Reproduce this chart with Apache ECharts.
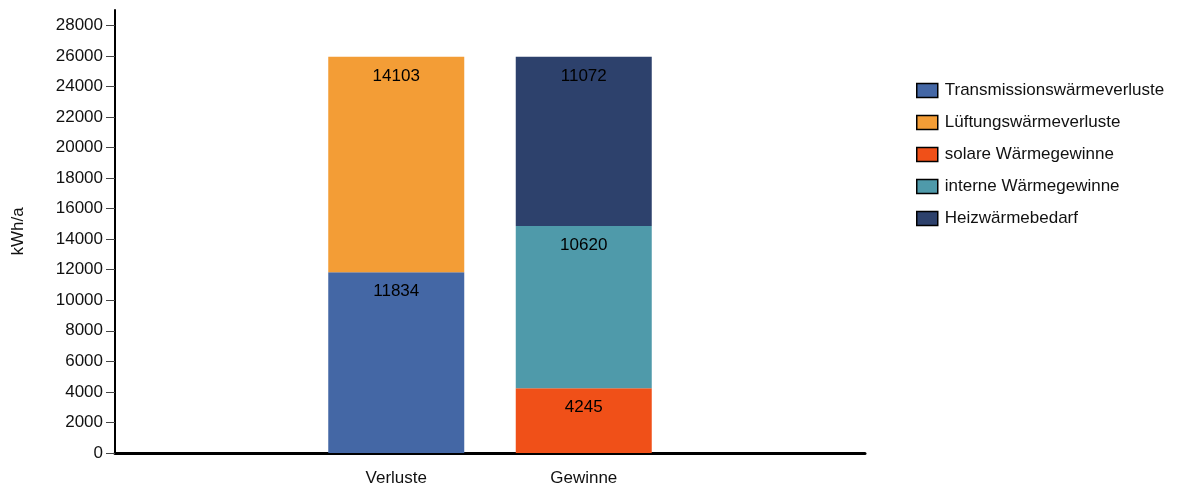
<!DOCTYPE html>
<html>
<head>
<meta charset="utf-8">
<script src="https://cdn.jsdelivr.net/npm/echarts@6/dist/echarts.min.js"></script>
<style>
  html, body { margin: 0; padding: 0; background: #fff; }
  #chart { width: 1200px; height: 488px; }
</style>
</head>
<body>
<div id="chart"></div>
<script>
// Energy balance: losses vs. gains (kWh/a)
const categories = ['', 'Verluste', 'Gewinne', ''];
const seriesNames = [
  'Transmissionswärmeverluste',
  'Lüftungswärmeverluste',
  'solare Wärmegewinne',
  'interne Wärmegewinne',
  'Heizwärmebedarf'
];
const transmission = [null, 11834, null, null];
const lueftung     = [null, 14103, null, null];
const solar        = [null, null, 4245, null];
const intern       = [null, null, 10620, null];
const heizbedarf   = [null, null, 11072, null];
const colors = ['#4467a5', '#f39d36', '#f05018', '#4f9aaa', '#2d416c'];
const yTicks = [0, 2000, 4000, 6000, 8000, 10000, 12000, 14000, 16000, 18000, 20000, 22000, 24000, 26000, 28000];

const FONT = 'Liberation Sans, Arial, sans-serif';
const valueSets = [transmission, lueftung, solar, intern, heizbedarf];

const chart = echarts.init(document.getElementById('chart'));
chart.setOption({
  animation: false,
  textStyle: { fontFamily: FONT },
  grid: { left: 115, right: 335, top: 10, bottom: 35, containLabel: false },
  legend: {
    orient: 'vertical',
    left: 911,
    top: 77,
    itemWidth: 21,
    itemHeight: 14,
    itemGap: 15,
    icon: 'rect',
    itemStyle: { borderColor: '#000', borderWidth: 1.5 },
    textStyle: { fontFamily: FONT, fontSize: 17, color: '#111', padding: [0, 0, 0, 2] },
    data: seriesNames
  },
  xAxis: {
    type: 'category',
    data: categories,
    axisLine: { lineStyle: { color: '#000', width: 3 } },
    axisTick: { show: false },
    axisLabel: { fontFamily: FONT, fontSize: 17, color: '#111', margin: 17 }
  },
  yAxis: {
    type: 'value',
    min: 0,
    max: 29000,
    name: 'kWh/a',
    nameLocation: 'middle',
    nameGap: 88,
    nameTextStyle: { fontFamily: FONT, fontSize: 17, color: '#111' },
    splitLine: { show: false },
    axisLine: { show: true, lineStyle: { color: '#000', width: 2 } },
    axisTick: { show: true, length: 9, customValues: yTicks, lineStyle: { color: '#444', width: 1 } },
    axisLabel: {
      fontFamily: FONT, fontSize: 17, color: '#111', margin: 12,
      customValues: yTicks,
      formatter: v => String(v)
    }
  },
  series: seriesNames.map((name, i) => ({
    name: name,
    type: 'bar',
    stack: 'total',
    barWidth: 136,
    data: valueSets[i],
    itemStyle: { color: colors[i] },
    label: {
      show: true,
      position: 'insideTop',
      distance: 11,
      fontFamily: FONT,
      fontSize: 17,
      color: '#000'
    }
  }))
});
</script>
</body>
</html>
